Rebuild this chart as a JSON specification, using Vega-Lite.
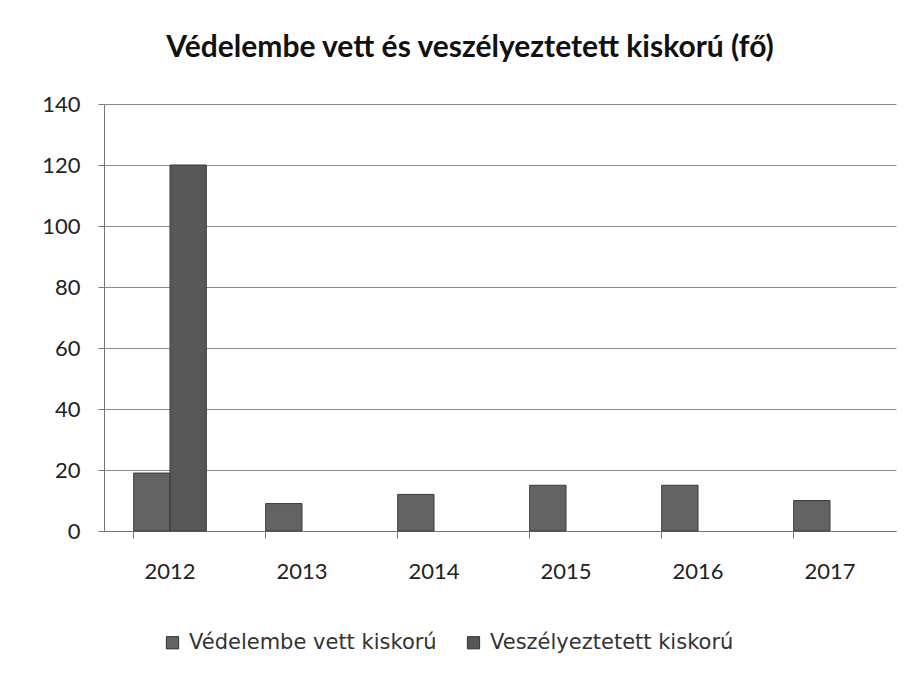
{
  "$schema": "https://vega.github.io/schema/vega-lite/v6.json",
  "width": 792,
  "height": 427,
  "autosize": {"type": "none"},
  "padding": {"left": 104, "top": 104, "right": 18, "bottom": 142},
  "background": "white",
  "title": {
    "text": "Védelembe vett és veszélyeztetett kiskorú (fő)",
    "font": "Lato",
    "fontSize": 30,
    "fontWeight": "bold",
    "color": "#111111",
    "offset": 30,
    "dx": -30,
    "anchor": "middle"
  },
  "data": {
    "values": [
      {"ev": "2012", "sorozat": "Védelembe vett kiskorú", "fo": 19},
      {"ev": "2012", "sorozat": "Veszélyeztetett kiskorú", "fo": 120},
      {"ev": "2013", "sorozat": "Védelembe vett kiskorú", "fo": 9},
      {"ev": "2013", "sorozat": "Veszélyeztetett kiskorú", "fo": 0},
      {"ev": "2014", "sorozat": "Védelembe vett kiskorú", "fo": 12},
      {"ev": "2014", "sorozat": "Veszélyeztetett kiskorú", "fo": 0},
      {"ev": "2015", "sorozat": "Védelembe vett kiskorú", "fo": 15},
      {"ev": "2015", "sorozat": "Veszélyeztetett kiskorú", "fo": 0},
      {"ev": "2016", "sorozat": "Védelembe vett kiskorú", "fo": 15},
      {"ev": "2016", "sorozat": "Veszélyeztetett kiskorú", "fo": 0},
      {"ev": "2017", "sorozat": "Védelembe vett kiskorú", "fo": 10},
      {"ev": "2017", "sorozat": "Veszélyeztetett kiskorú", "fo": 0}
    ]
  },
  "mark": {"type": "bar", "stroke": "#3a3a3a"},
  "encoding": {
    "x": {
      "field": "ev",
      "type": "nominal",
      "scale": {"paddingInner": 0.45, "paddingOuter": 0.225},
      "axis": {
        "title": null,
        "labelAngle": 0,
        "labelFont": "Lato",
        "labelFontSize": 22,
        "labelColor": "#222222",
        "labelPadding": 23,
        "bandPosition": 0,
        "tickColor": "#777777",
        "tickSize": 7,
        "domainColor": "#777777",
        "grid": false
      }
    },
    "xOffset": {"field": "sorozat", "type": "nominal", "sort": ["Védelembe vett kiskorú", "Veszélyeztetett kiskorú"]},
    "y": {
      "field": "fo",
      "type": "quantitative",
      "scale": {"domain": [0, 140]},
      "axis": {
        "title": null,
        "values": [0, 20, 40, 60, 80, 100, 120, 140],
        "labelFont": "Lato",
        "labelFontSize": 22,
        "labelColor": "#222222",
        "labelPadding": 18,
        "tickColor": "#777777",
        "tickSize": 6,
        "domainColor": "#777777",
        "gridColor": "#8a8a8a",
        "gridWidth": 1
      }
    },
    "strokeWidth": {"condition": {"test": "datum.fo > 0", "value": 1}, "value": 0},
    "color": {
      "field": "sorozat",
      "type": "nominal",
      "sort": ["Védelembe vett kiskorú", "Veszélyeztetett kiskorú"],
      "scale": {"range": ["#636363", "#575757"]},
      "legend": {
        "title": null,
        "orient": "none",
        "legendX": 58,
        "legendY": 528,
        "padding": 0,
        "direction": "horizontal",
        "symbolType": "square",
        "symbolSize": 150,
        "symbolStrokeColor": "#333333",
        "symbolStrokeWidth": 1,
        "symbolOffset": 0,
        "labelOffset": 6,
        "labelLimit": 0,
        "labelFont": "DejaVu Sans",
        "labelFontSize": 21,
        "labelColor": "#333333",
        "columnPadding": 26
      }
    }
  },
  "config": {
    "view": {"stroke": null}
  }
}
